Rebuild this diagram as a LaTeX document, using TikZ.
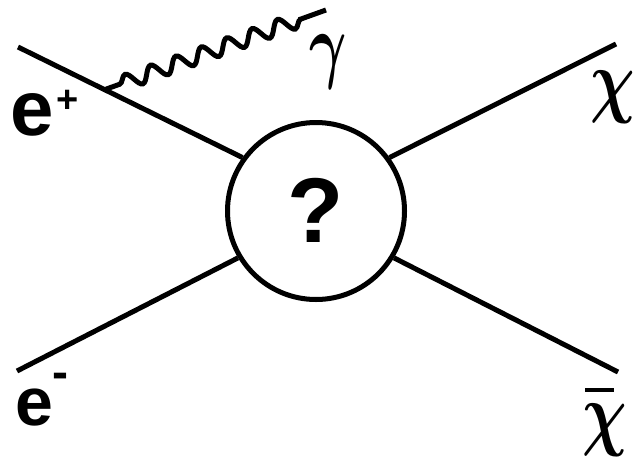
\documentclass[tikz,border=0pt]{standalone}
\usepackage{fontspec}
\usetikzlibrary{decorations.pathmorphing,calc}
\newfontfamily\hvfont{Liberation Sans}
\tikzset{
  fline/.style={line width=5pt},
  photon/.style={line width=5pt, decorate, decoration={snake, segment length=27pt, amplitude=7.5pt, pre length=16pt, post length=20pt}},
  lbl/.style={inner sep=0pt, outer sep=0pt},
}
\newcommand{\greekbig}[3]{\scalebox{#1}[#2]{\fontsize{24.88}{26}\selectfont\boldmath$#3$}}
\begin{document}
\begin{tikzpicture}[x=1pt,y=-1pt]
\useasboundingbox (0,0) rectangle (636,458);
\node[circle, draw, line width=5pt, minimum size=177pt, inner sep=0pt] (blob) at (316,211) {};
\node[lbl, anchor=base] (q) at (315.5,242) {\fontsize{92}{92}\selectfont\hvfont\bfseries ?};
\coordinate (pin) at (18,47);
\coordinate (ein) at (17,371);
\coordinate (chiout) at (616,44);
\coordinate (chibarout) at (618,372);
\draw[fline] (pin) -- (blob.144);
\draw[fline] (ein) -- (blob.211);
\draw[fline] (blob.36) -- (chiout);
\draw[fline] (blob.-31) -- (chibarout);
\coordinate (gstart) at ($(pin)!0.386!(blob.144)$);
\coordinate (gend) at (326,10);
\draw[photon] (gstart) -- (gend);
\node[lbl, anchor=base west] (ep) at (10,135) {\fontsize{78}{78}\selectfont\hvfont\bfseries e};
\node[lbl] (epsign) at (67.5,101.5) {\fontsize{38}{38}\selectfont\hvfont\bfseries +};
\node[lbl, anchor=base west] (em) at (16,425) {\fontsize{68}{68}\selectfont\hvfont\bfseries e};
\node[lbl] (emsign) at (60,381) {\fontsize{48}{48}\selectfont\hvfont\bfseries -};
\node[lbl, anchor=base] (gam) at (328,72) {\greekbig{2.3}{3.4}{\gamma}};
\node[lbl, anchor=base] (chi) at (613,107) {\greekbig{2.5}{3.3}{\chi}};
\node[lbl, anchor=base] (chibar) at (605,440) {\greekbig{2.5}{3.3}{\makebox[0pt][l]{\hspace{1pt}\raisebox{14.5pt}{\rule{11.6pt}{1.2pt}}}\chi}};
\end{tikzpicture}
\end{document}
